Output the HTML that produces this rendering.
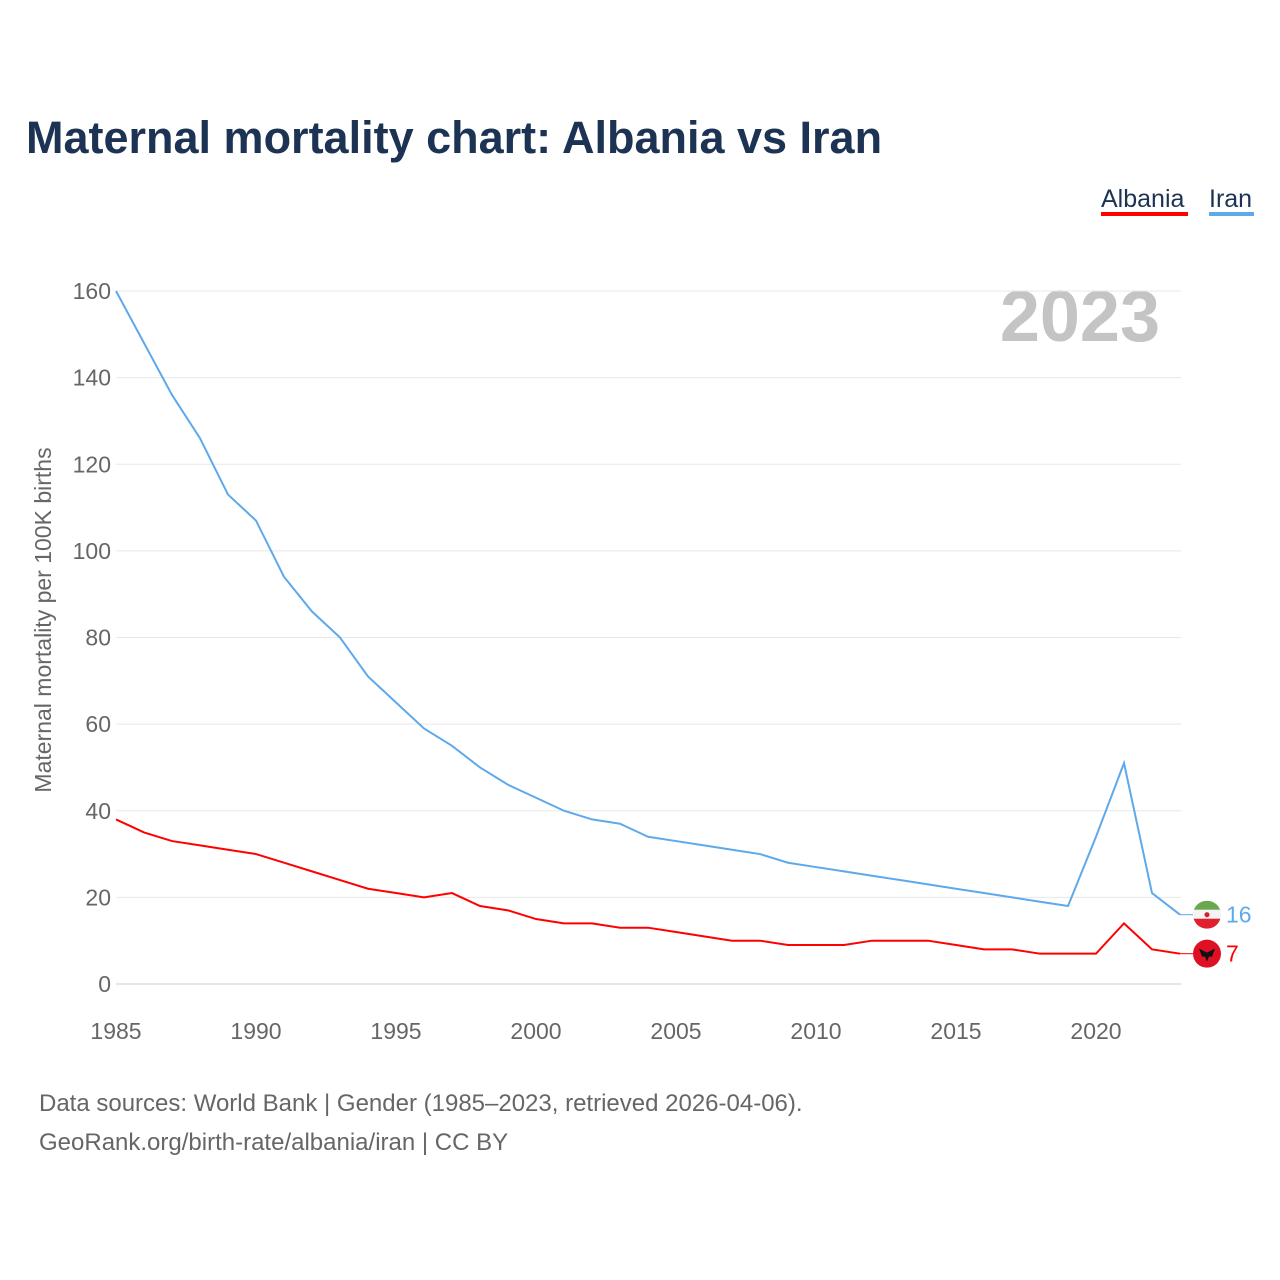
<!DOCTYPE html>
<html><head><meta charset="utf-8"><style>
body{margin:0;background:#fff;font-family:"Liberation Sans",sans-serif;}
#wrap{position:relative;width:1280px;height:1280px;overflow:hidden;}
</style></head><body>
<div id="wrap">
<svg id="chart" width="1280" height="1280">
<defs><clipPath id="cI"><circle cx="1207" cy="914" r="14"/></clipPath></defs>
<text x="26" y="153" font-size="45" font-weight="bold" fill="#1c3353">Maternal mortality chart: Albania vs Iran</text>
<g><text x="1101" y="207" font-size="25" fill="#1c3353">Albania</text><rect x="1101" y="212" width="87" height="4" fill="#ff0000"/></g>
<g><text x="1209" y="207" font-size="25" fill="#1c3353">Iran</text><rect x="1209" y="212" width="45" height="4" fill="#5ea9ec"/></g>
<text x="1160" y="341" font-size="72" font-weight="bold" fill="#c4c4c4" text-anchor="end">2023</text>
<text transform="translate(51,620) rotate(-90)" font-size="23" fill="#666" text-anchor="middle">Maternal mortality per 100K births</text>
<g id="grid"></g><g id="lines"></g>
<text x="39" y="1111" font-size="24" fill="#666">Data sources: World Bank | Gender (1985–2023, retrieved 2026-04-06).</text>
<text x="39" y="1150" font-size="24" fill="#666">GeoRank.org/birth-rate/albania/iran | CC BY</text>
</svg></div>
<script>
const years=[];for(let y=1985;y<=2023;y++)years.push(y);
const iran=[160,148,136,126,113,107,94,86,80,71,65,59,55,50,46,43,40,38,37,34,33,32,31,30,28,27,26,25,24,23,22,21,20,19,18,34,51,21,16];
const albania=[38,35,33,32,31,30,28,26,24,22,21,20,21,18,17,15,14,14,13,13,12,11,10,10,9,9,9,10,10,10,9,8,8,7,7,7,14,8,7];
const yTicks=[0,20,40,60,80,100,120,140,160];
const xTicks=[1985,1990,1995,2000,2005,2010,2015,2020];
const NS="http://www.w3.org/2000/svg";
const X=v=>116+(v-1985)*(1180-116)/38;
const Y=v=>984-v*(984-291)/160;
function mk(t,a,p){const e=document.createElementNS(NS,t);for(const k in a)e.setAttribute(k,a[k]);p.appendChild(e);return e;}
const g=document.getElementById('grid'),L=document.getElementById('lines');
yTicks.forEach(t=>{
 const l=mk('line',{x1:116,x2:1181,y1:Y(t),y2:Y(t),stroke:t?'#e8e8e8':'#ccc','stroke-width':1},g);
 
 
 const tx=mk('text',{x:111,y:Y(t)+8,'font-size':23,fill:'#666','text-anchor':'end'},g);tx.textContent=t;
 
 
});
xTicks.forEach(t=>{
 const tx=mk('text',{x:X(t),y:1039,'font-size':23,fill:'#666','text-anchor':'middle'},g);tx.textContent=t;
 
 
});
function line(d,c,name,flag){
 const p=mk('polyline',{points:d.map((v,i)=>X(years[i])+','+Y(v)).join(' '),fill:'none',stroke:c,'stroke-width':2},L);
 
 
 const last=d[d.length-1],cy=Y(last);
 mk('line',{x1:X(2023),y1:cy,x2:1194,y2:cy,stroke:c,'stroke-width':1},L);
 const fg=mk('g',{},L);
 
 
 if(flag==='iran'){
  const cl=mk('g',{'clip-path':'url(#cI)',transform:'translate(0,'+(cy-914)+')'},fg);
  mk('rect',{x:1193,y:900,width:28,height:10,fill:'#6aa84f'},cl);
  mk('rect',{x:1193,y:909,width:28,height:10,fill:'#f4f4f4'},cl);
  mk('rect',{x:1193,y:918,width:28,height:10,fill:'#e0202f'},cl);
  mk('circle',{cx:1207,cy:914,r:2.5,fill:'#d02030'},cl);
 }else{
  mk('circle',{cx:1207,cy:cy,r:14,fill:'#e01024'},fg);
  mk('path',{d:`M1199 ${cy-5} L1207 ${cy-1} L1215 ${cy-5} L1212 ${cy+3} L1209 ${cy+3} L1207 ${cy+8} L1205 ${cy+3} L1202 ${cy+3} Z`,fill:'#111'},fg);
 }
 const t=mk('text',{x:1226,y:cy+8,'font-size':23,fill:c},L);t.textContent=last;
 
 
}
line(iran,'#5ea9ec','iran-line','iran');
line(albania,'#ff0000','albania-line','albania');
</script>
</body></html>
